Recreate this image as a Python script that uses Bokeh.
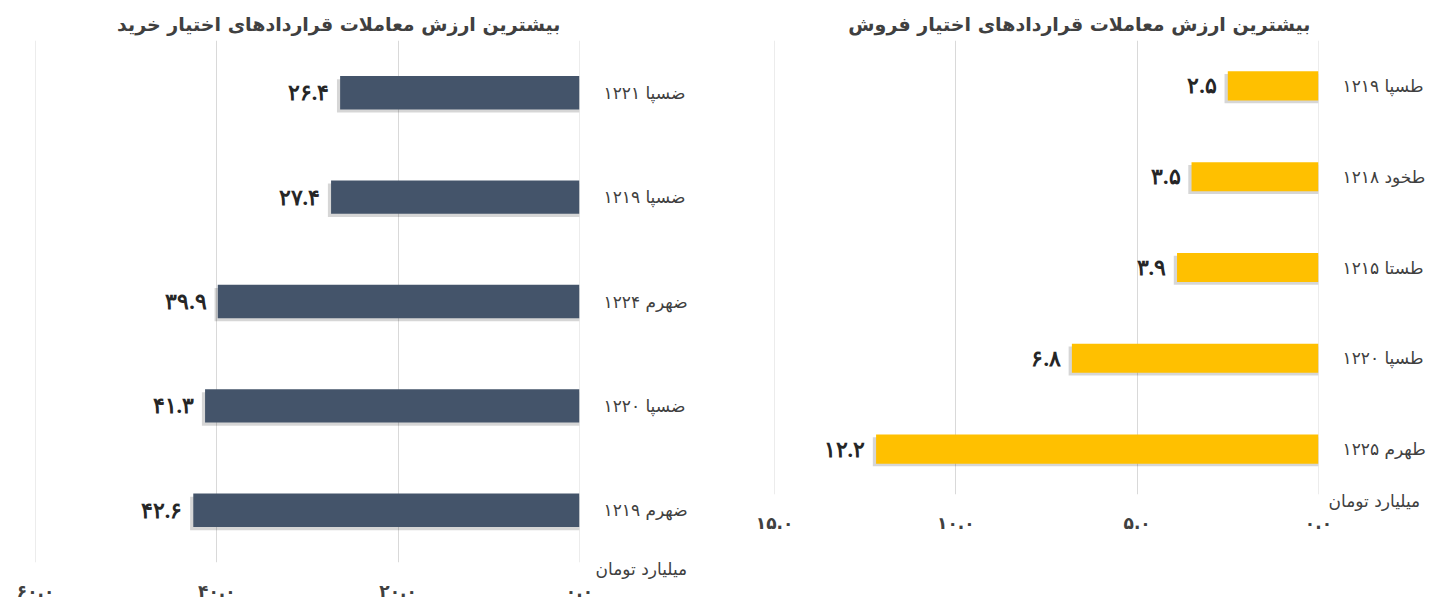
from bokeh.plotting import figure
from bokeh.layouts import row
from bokeh.models import (ColumnDataSource, Range1d, FactorRange, FixedTicker,
                          LabelSet, Title)
from bokeh.transform import dodge
from bokeh.embed import file_html
from bokeh.resources import INLINE

FA = str.maketrans("0123456789", "۰۱۲۳۴۵۶۷۸۹")


def fa(s):
    return s.translate(FA)


# ---------------- data ----------------
call_title = "بیشترین ارزش معاملات قراردادهای اختیار خرید"
call_categories = ["ضسپا ۱۲۲۱", "ضسپا ۱۲۱۹", "ضهرم ۱۲۲۴", "ضسپا ۱۲۲۰", "ضهرم ۱۲۱۹"]
call_values = [26.4, 27.4, 39.9, 41.3, 42.6]
call_ticks = [0, 20, 40, 60]
call_tick_labels = ["۰.۰", "۲۰.۰", "۴۰.۰", "۶۰.۰"]

put_title = "بیشترین ارزش معاملات قراردادهای اختیار فروش"
put_categories = ["طسپا ۱۲۱۹", "طخود ۱۲۱۸", "طستا ۱۲۱۵", "طسپا ۱۲۲۰", "طهرم ۱۲۲۵"]
put_values = [2.5, 3.5, 3.9, 6.8, 12.2]
put_ticks = [0, 5, 10, 15]
put_tick_labels = ["۰.۰", "۵.۰", "۱۰.۰", "۱۵.۰"]

unit_label = "میلیارد تومان"

FONT = "DejaVu Sans"
TEXT = "#404040"
FRAME_W = 544


def make_panel(title, cats, vals, ticks, tick_labels, color, width, height,
               bl, br, bt, bb, title_offset, unit_dx, shadow_dx):
    src = ColumnDataSource(dict(cat=cats, val=vals,
                                label=[fa(f"{v:.1f}") for v in vals]))
    y_range = FactorRange(factors=list(reversed(cats)))
    eps = max(ticks) * 1e-4
    x_range = Range1d(start=max(ticks) + eps, end=-eps)
    p = figure(width=width, height=height, y_range=y_range, x_range=x_range,
               output_backend="svg", toolbar_location=None,
               y_axis_location="right",
               min_border_left=bl, min_border_right=br,
               min_border_top=bt, min_border_bottom=bb)
    p.outline_line_color = None
    p.background_fill_color = "white"
    p.border_fill_color = "white"

    # title
    p.title.text = title
    p.title.align = "right"
    p.title.offset = title_offset
    p.title.text_font = FONT
    p.title.text_font_size = "19px"
    p.title.text_font_style = "bold"
    p.title.text_color = TEXT
    p.title.standoff = 12

    # grid
    p.xgrid.ticker = FixedTicker(ticks=ticks)
    p.xgrid.grid_line_color = "#d9d9d9"
    p.xgrid.grid_line_width = 1
    p.ygrid.grid_line_color = None

    # x axis
    xa = p.xaxis[0]
    xa.ticker = FixedTicker(ticks=ticks)
    xa.major_label_overrides = {t: l for t, l in zip(ticks, tick_labels)}
    xa.axis_line_color = None
    xa.major_tick_line_color = None
    xa.minor_tick_line_color = None
    xa.major_label_text_font = FONT
    xa.major_label_text_font_style = "bold"
    xa.major_label_text_font_size = "17px"
    xa.major_label_text_color = TEXT
    xa.major_label_standoff = -2

    # unit caption just below the frame, to the right of the zero line
    unit = Title(text=unit_label, align="left", offset=FRAME_W + unit_dx,
                 vertical_align="top", standoff=-8,
                 text_font=FONT, text_font_size="17px",
                 text_font_style="normal", text_color=TEXT)
    p.below = [unit] + list(p.below)

    # y axis (categories)
    ya = p.yaxis[0]
    ya.axis_line_color = None
    ya.major_tick_line_color = None
    ya.minor_tick_line_color = None
    ya.major_label_text_font = FONT
    ya.major_label_text_font_size = "17px"
    ya.major_label_text_color = TEXT
    ya.major_label_standoff = 18

    # shadow + bars
    p.hbar(y=dodge("cat", -0.03, range=y_range),
           left=dodge("val", shadow_dx, range=x_range), right=0,
           height=0.32, fill_color="#000000", fill_alpha=0.16,
           line_color=None, source=src)
    p.hbar(y="cat", left="val", right=0, height=0.32, fill_color=color,
           line_color=None, source=src)

    labels = LabelSet(x="val", y="cat", text="label", source=src,
                      x_offset=-11, text_align="right", text_baseline="middle",
                      text_font=FONT, text_font_style="bold",
                      text_font_size="22px", text_color="#262626")
    p.add_layout(labels)
    return p


p_call = make_panel(call_title, call_categories, call_values, call_ticks,
                    call_tick_labels, "#44546A", 720, 613,
                    35, 141, 40, 50, 19, 16, 0.35)
p_put = make_panel(put_title, put_categories, put_values, put_ticks,
                   put_tick_labels, "#FFC000", 714, 545,
                   54, 116, 40, 51, 8, 10, 0.09)

layout = row(p_call, p_put)
open("out.html", "w").write(file_html(layout, INLINE))
